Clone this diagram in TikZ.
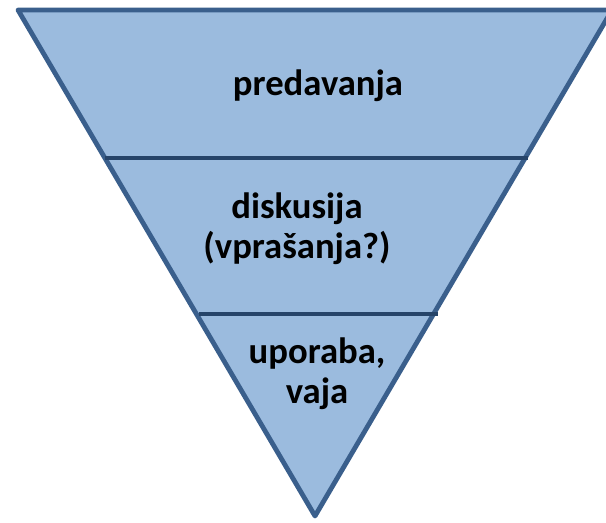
\documentclass[tikz,border=0pt]{standalone}
\usepackage{fontspec}
\setmainfont{Carlito}
\usepackage{tikz}
\definecolor{funnelfill}{HTML}{9BBBDE}
\definecolor{funneledge}{HTML}{3A5F8C}
\definecolor{funnelline}{HTML}{264469}

\begin{document}
\begin{tikzpicture}[x=0.75pt, y=-0.75pt,
    funnel/.style={draw=funneledge, fill=funnelfill, line width=3.6pt, line join=round},
    divider/.style={draw=funnelline, line width=3.6pt},
    level/.style={align=center, font=\fontsize{27.5}{30}\selectfont\bfseries, inner sep=0pt}
]
    \useasboundingbox (0,0) rectangle (606,522);
    \clip (0,0) rectangle (606,522);

    % Funnel
    \coordinate (topleft) at (18,10);
    \coordinate (topright) at (612,10);
    \coordinate (apex) at (315,516);
    \path [funnel] (topleft) -- (topright) -- (apex) -- cycle;

    % Dividers
    \coordinate (d1l) at (105,158);
    \coordinate (d1r) at (528,158);
    \coordinate (d2l) at (199,314);
    \coordinate (d2r) at (438,314);
    \draw [divider] (d1l) -- (d1r);
    \draw [divider] (d2l) -- (d2r);

    % Labels (base = last line)
    \node (lectures) [level, anchor=base] at (318,95) {predavanja};
    \node (discussion) [level, anchor=base] at (297,258) {diskusija\\(vprašanja?)};
    \node (practice) [level, anchor=base] at (317,403) {uporaba,\\vaja};
\end{tikzpicture}
\end{document}
